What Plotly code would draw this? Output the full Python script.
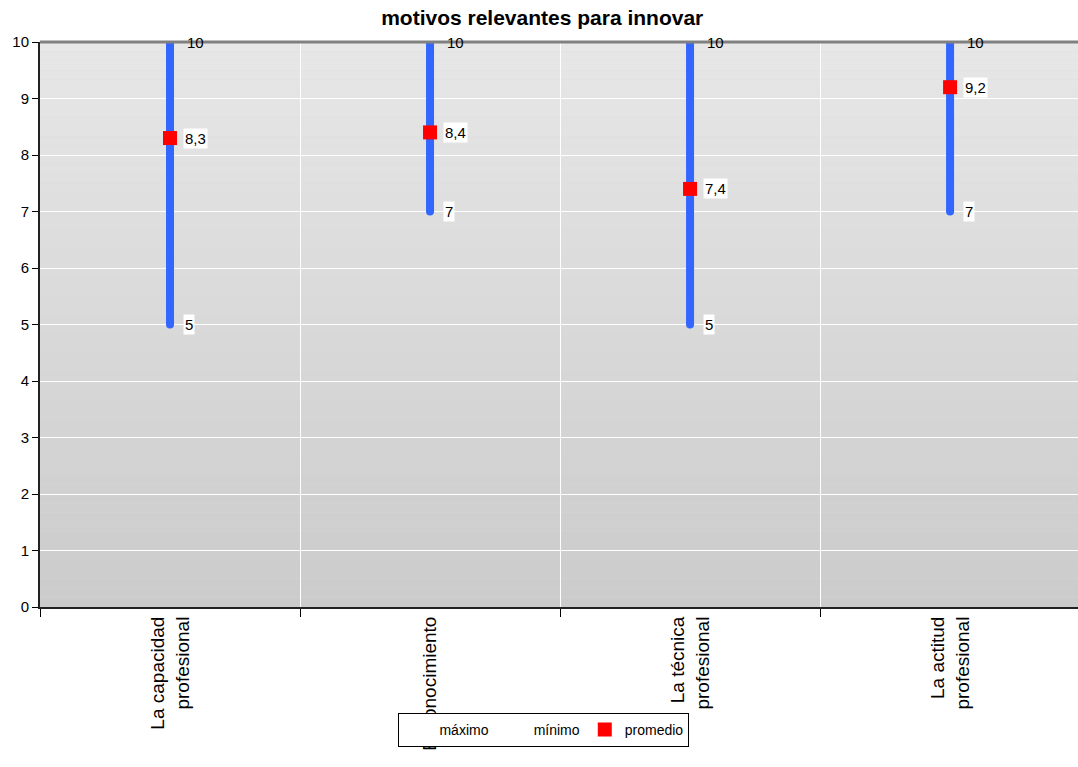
import plotly.graph_objects as go

categories = ["La capacidad<br>profesional", "El conocimiento", "La técnica<br>profesional", "La actitud<br>profesional"]
maximo = [10, 10, 10, 10]
minimo = [5, 7, 5, 7]
promedio = [8.3, 8.4, 7.4, 9.2]
y_ticks = [0, 1, 2, 3, 4, 5, 6, 7, 8, 9, 10]

FONT = "Liberation Sans, Arial, sans-serif"

def fmt(v):
    s = ("%g" % v)
    return s.replace(".", ",")

fig = go.Figure()

# vertical min-max lines
lx, ly = [], []
for i, c in enumerate(categories):
    lx += [c, c, None]
    ly += [minimo[i], maximo[i], None]
fig.add_trace(go.Scatter(x=lx, y=ly, mode="lines", line=dict(color="#3366ff", width=8),
                         showlegend=False, hoverinfo="skip"))
# round caps
fig.add_trace(go.Scatter(x=categories + categories, y=maximo + minimo, mode="markers",
                         marker=dict(color="#3366ff", size=8, symbol="circle"),
                         showlegend=False, hoverinfo="skip"))

fig.add_trace(go.Scatter(x=categories, y=maximo, mode="markers", name="máximo",
                         marker=dict(color="rgba(0,0,0,0)", size=1)))
fig.add_trace(go.Scatter(x=categories, y=minimo, mode="markers", name="mínimo",
                         marker=dict(color="rgba(0,0,0,0)", size=1)))
fig.add_trace(go.Scatter(x=categories, y=promedio, mode="markers", name="promedio",
                         marker=dict(color="#ff0000", size=14, symbol="square")))

annotations = []
for i, c in enumerate(categories):
    annotations.append(dict(x=c, y=maximo[i], text=fmt(maximo[i]), showarrow=False,
                            xanchor="left", xshift=15, font=dict(family=FONT, size=15, color="black")))
    annotations.append(dict(x=c, y=minimo[i], text=fmt(minimo[i]), showarrow=False,
                            xanchor="left", xshift=13, bgcolor="white", borderpad=1,
                            font=dict(family=FONT, size=15, color="black")))
    annotations.append(dict(x=c, y=promedio[i], text=fmt(promedio[i]), showarrow=False,
                            xanchor="left", xshift=13, bgcolor="white", borderpad=1,
                            font=dict(family=FONT, size=15, color="black")))

# gradient background stripes
shapes = []
n = 60
for k in range(n):
    t = (k + 0.5) / n
    c = int(round(203 + (231 - 203) * t))
    shapes.append(dict(type="rect", xref="x domain", yref="y domain", x0=0, x1=1,
                       y0=k / n, y1=(k + 1) / n, fillcolor="rgb(%d,%d,%d)" % (c, c, c),
                       line=dict(width=0), layer="below"))
shapes.append(dict(type="line", xref="x domain", yref="y domain", x0=0, x1=1, y0=1, y1=1,
                   line=dict(color="#808080", width=3), layer="above"))

fig.update_layout(
    width=1078, height=767,
    margin=dict(l=40, r=0, t=42, b=160),
    paper_bgcolor="white", plot_bgcolor="#d8d8d8",
    title=dict(text="<b>motivos relevantes para innovar</b>", x=0.503, xref="container",
               y=0.977, yanchor="middle", font=dict(family=FONT, size=21, color="black")),
    font=dict(family=FONT, color="black"),
    xaxis=dict(type="category", range=[-0.5, 3.492],
               tickangle=-90, tickson="boundaries", ticks="outside", ticklen=8,
               tickcolor="black", showgrid=True, gridcolor="white", gridwidth=1,
               showline=True, linecolor="#222222", linewidth=2,
               tickfont=dict(family=FONT, size=19, color="black"), zeroline=False),
    yaxis=dict(range=[0, 10], tickmode="array", tickvals=y_ticks,
               ticks="outside", ticklen=6, tickcolor="black", showgrid=True,
               gridcolor="white", gridwidth=1, showline=True, linecolor="#222222",
               linewidth=2, zeroline=False, tickfont=dict(family=FONT, size=15, color="black")),
    legend=dict(orientation="h", x=0.4855, xanchor="center", y=-0.1876, yanchor="top",
                bgcolor="white", bordercolor="black", borderwidth=1,
                font=dict(family=FONT, size=14, color="black"), itemwidth=30),
    annotations=annotations,
    shapes=shapes,
    showlegend=True,
)

fig.write_html("out.html")
